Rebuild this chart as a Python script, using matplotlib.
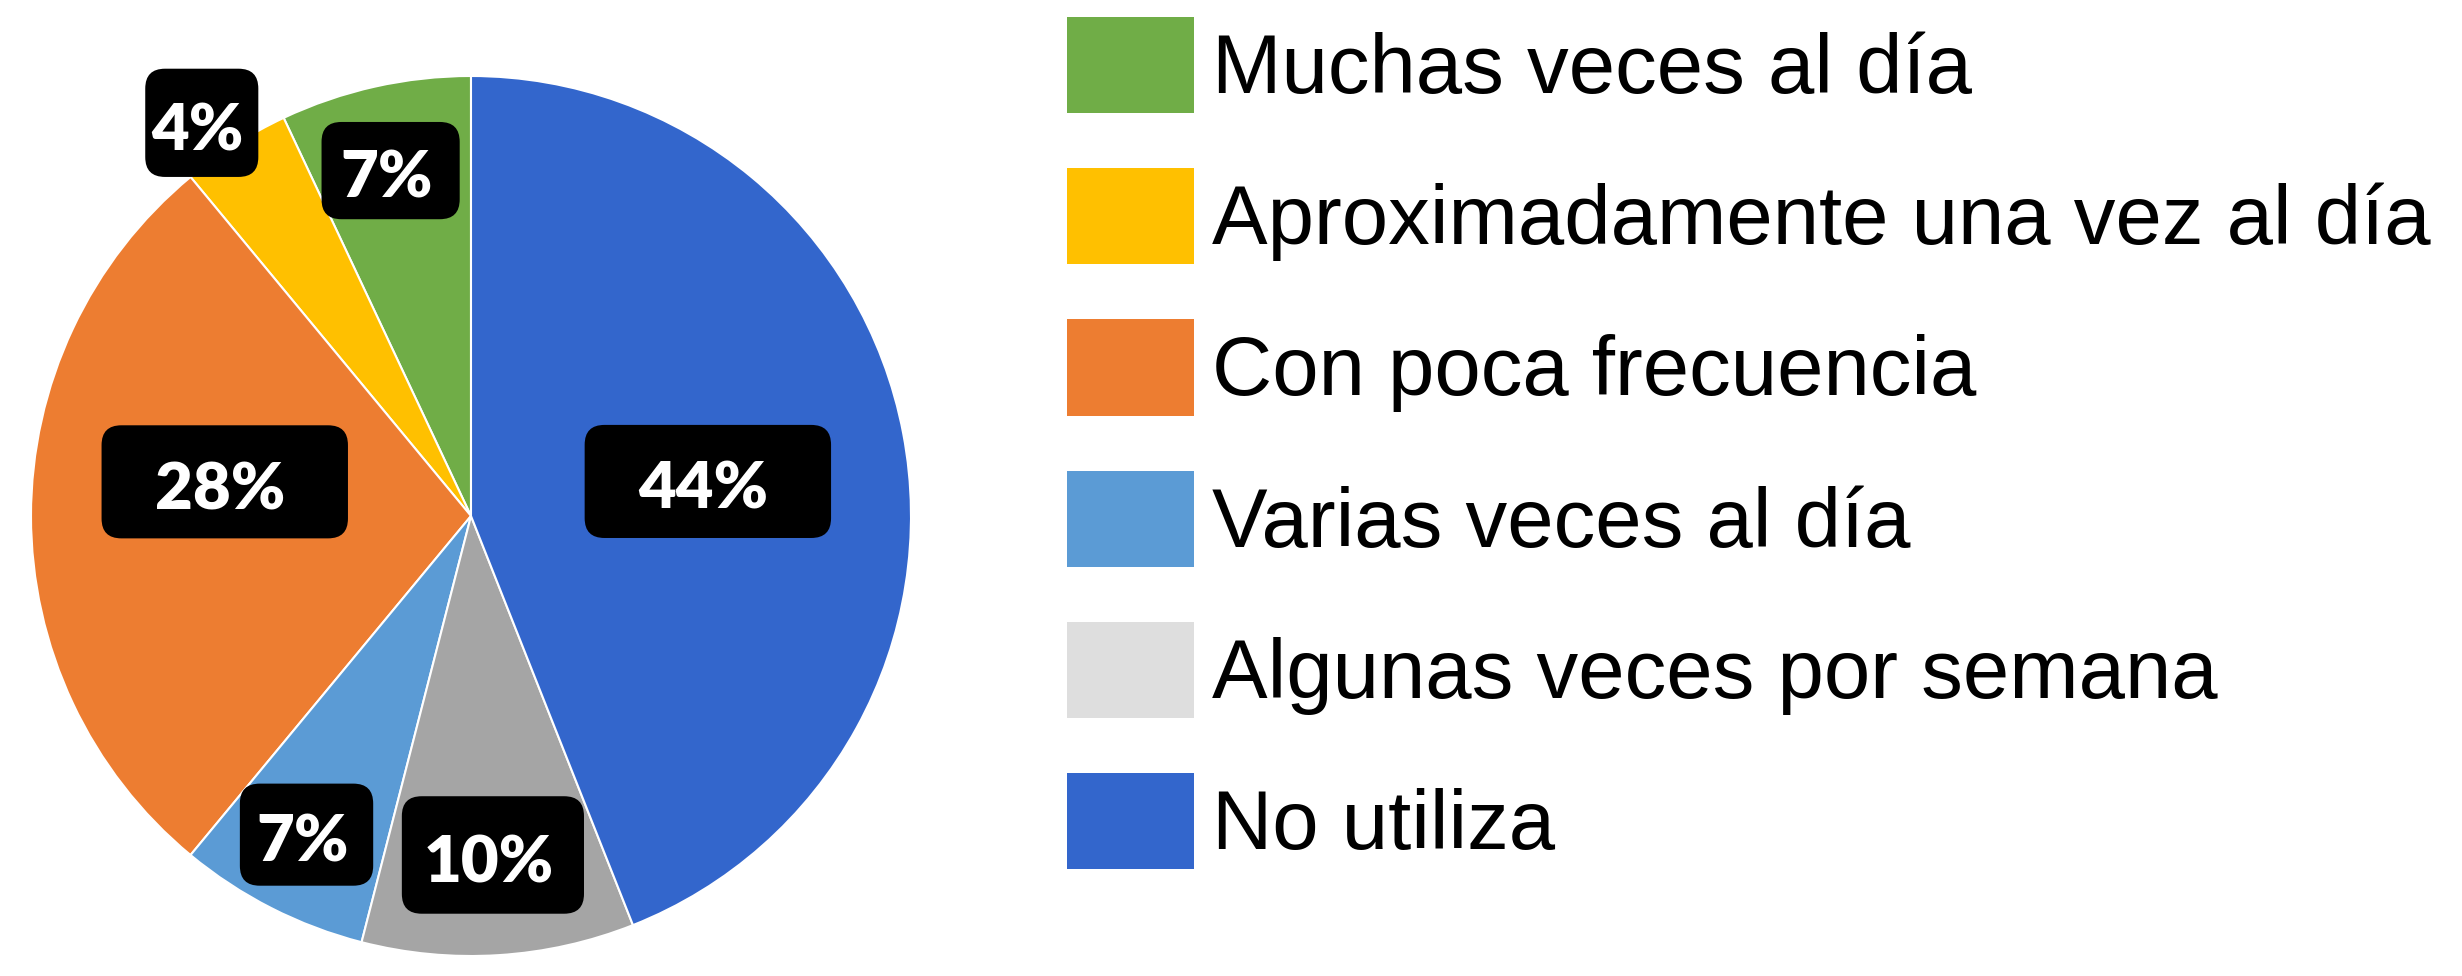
import matplotlib
matplotlib.use("Agg")
import matplotlib.pyplot as plt
from matplotlib.patches import Patch, FancyBboxPatch
import numpy as np

# data, in pie order (counter-clockwise from 12 o'clock)
categories = ["Muchas veces al día", "Aproximadamente una vez al día",
              "Con poca frecuencia", "Varias veces al día",
              "Algunas veces por semana", "No utiliza"]
values = [7, 4, 28, 7, 10, 44]
pct_labels = ["7%", "4%", "28%", "7%", "10%", "44%"]

colors = ["#70AD47", "#FFC000", "#ED7D31", "#5B9BD5", "#A5A5A5", "#3366CC"]
legend_colors = ["#70AD47", "#FFC000", "#ED7D31", "#5B9BD5", "#DEDEDE", "#3366CC"]

# label box layout (distance from centre, angle tweak, box size)
lab_r = [0.806, 1.083, 0.565, 0.815, 0.772, 0.544]
lab_dth = [0.5, 2.0, -7.9, -0.3, 0.1, -2.5]
box_w = [0.314, 0.257, 0.560, 0.303, 0.414, 0.560]
box_h = [0.221, 0.246, 0.257, 0.232, 0.267, 0.257]

W, H = 2462, 976
fig = plt.figure(figsize=(W / 100, H / 100), dpi=100)

cx, cy, R = 471, 516, 440
ax = fig.add_axes([(cx - R) / W, (H - cy - R) / H, 2 * R / W, 2 * R / H])
wedges, _ = ax.pie(values, colors=colors, startangle=90, counterclock=True,
                   radius=1, wedgeprops=dict(edgecolor="white", linewidth=1.5))
ax.set_xlim(-1, 1)
ax.set_ylim(-1, 1)
ax.set_aspect("equal")
ax.axis("off")

for i, w in enumerate(wedges):
    th = np.deg2rad((w.theta1 + w.theta2) / 2 + lab_dth[i])
    x, y = lab_r[i] * np.cos(th), lab_r[i] * np.sin(th)
    box = FancyBboxPatch((x - box_w[i] / 2, y - box_h[i] / 2), box_w[i], box_h[i],
                         boxstyle="round,pad=0,rounding_size=0.045",
                         facecolor="black", edgecolor="none", zorder=5,
                         clip_on=False)
    ax.add_patch(box)
    ax.text(x - 0.01, y - 0.02, pct_labels[i], ha="center", va="center", color="white",
            fontsize=47, fontweight="heavy", family="Lato", zorder=6)

handles = [Patch(facecolor=c, edgecolor="none") for c in legend_colors]
fig.legend(handles, categories, loc="upper left",
           bbox_to_anchor=(1067 / W, 1 - 17 / H), frameon=False,
           prop=dict(family="Liberation Sans", size=60),
           handlelength=1.52, handleheight=1.4, handletextpad=0.22,
           labelspacing=0.66, borderpad=0, borderaxespad=0)

fig.savefig("out.png", dpi=100, facecolor="white")
